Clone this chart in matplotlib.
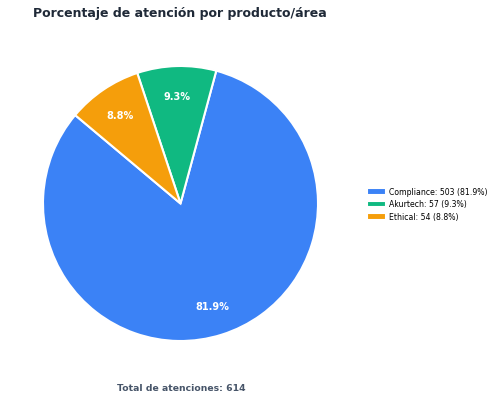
import matplotlib
matplotlib.use('Agg')
import matplotlib.pyplot as plt

# Data
labels = ['Compliance', 'Akurtech', 'Ethical']
counts = [503, 57, 54]
colors = ['#3B82F6', '#10B981', '#F59E0B']

total = sum(counts)
legend_labels = ['{}: {} ({:.1f}%)'.format(l, c, c / total * 100) for l, c in zip(labels, counts)]

# Figure
fig = plt.figure(figsize=(5.0, 4.02), dpi=100)
ax = fig.add_axes([43 / 500, 60 / 402, 275 / 500, 275 / 402])

wedges, texts, autotexts = ax.pie(
    counts, colors=colors, startangle=140, autopct='%1.1f%%', pctdistance=0.78,
    wedgeprops=dict(edgecolor='white', linewidth=1.5),
    textprops=dict(color='white', fontsize=7, fontweight='bold'))
ax.set_xlim(-1, 1)
ax.set_ylim(-1, 1)
ax.set_aspect('equal')

# Titles
fig.text(33 / 500, 1 - 14 / 402, 'Porcentaje de atención por producto/área',
         fontsize=9, fontweight='bold', color='#1F2937', va='center', ha='left')
fig.text(181 / 500, 1 - 389 / 402, 'Total de atenciones: {}'.format(total),
         fontsize=6.7, fontweight='bold', color='#475569', va='center', ha='center')

# Legend
fig.legend(wedges, legend_labels, loc='center left', bbox_to_anchor=(360 / 500, 1 - 205 / 402),
           frameon=False, fontsize=5.6, handlelength=2.4, handleheight=0.9,
           labelspacing=0.45, handletextpad=0.45)

fig.savefig('out.png', dpi=100)
